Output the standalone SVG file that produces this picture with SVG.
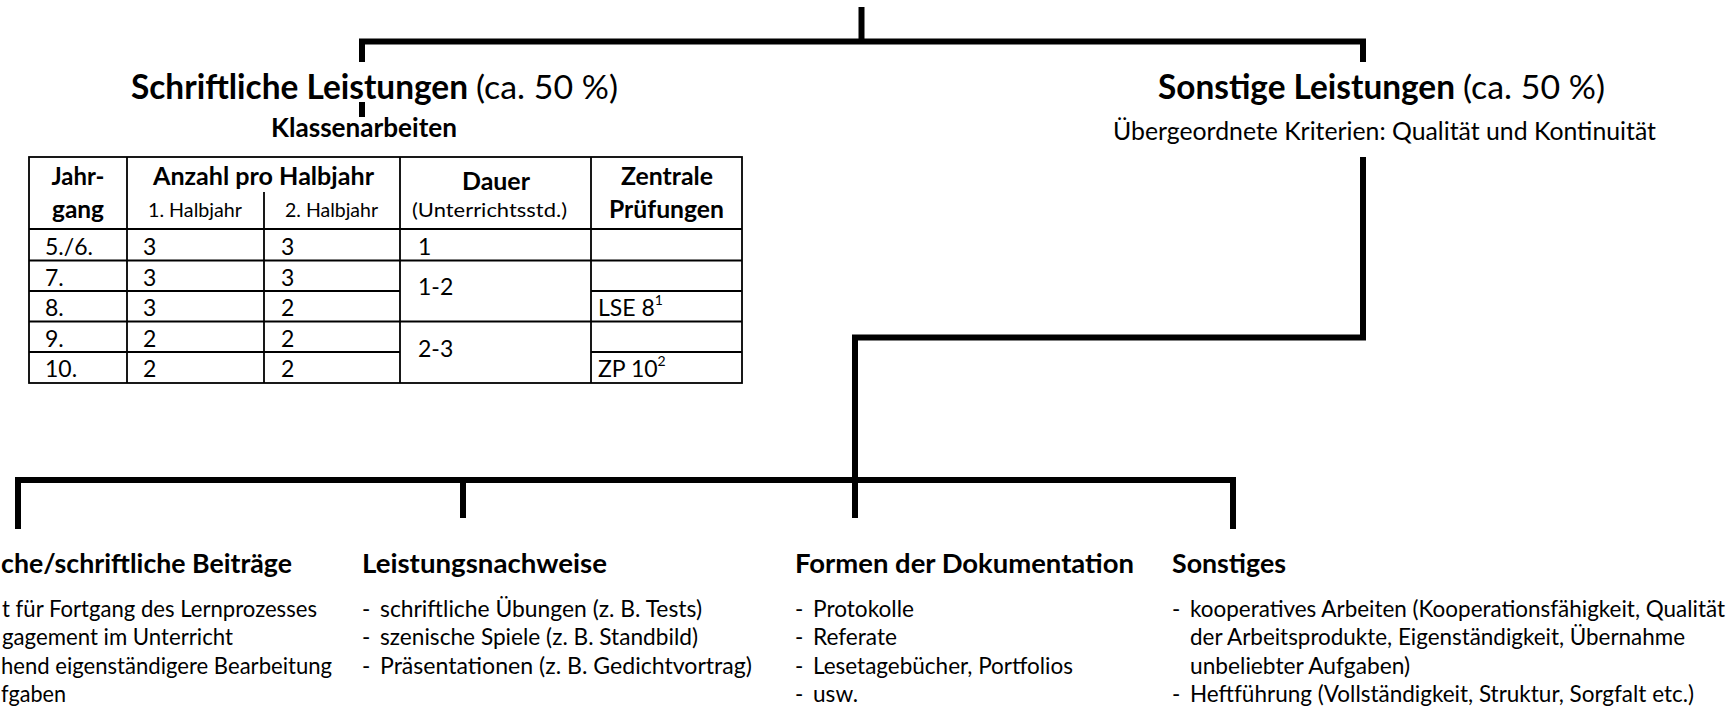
<svg xmlns="http://www.w3.org/2000/svg" width="1735" height="709" viewBox="0 0 1735 709">
<style>
text{font-family:Lato,"Open Sans","Liberation Sans",sans-serif;fill:#000}
.h1b{font-size:33.5px;font-weight:bold}
.h1r{font-size:33.5px}
.crit{font-size:25px}
.cap{font-size:26px;font-weight:bold}
.th{font-size:24.5px;font-weight:bold}
.ts{font-size:20px}
.td{font-size:23px}
.sup{font-size:14px}
.h2{font-size:27px;font-weight:bold}
.b{font-size:22.3px}
.conn{fill:none;stroke:#000;stroke-width:6;stroke-linejoin:miter;stroke-linecap:butt}
.tl{fill:none;stroke:#000;stroke-width:1.8}
</style>
<g id="connectors">
<path class="conn" d="M861.5 7 V41.5"/>
<path class="conn" d="M362 62 V41.5 H1363 V62"/>
<path class="conn" d="M362 102 V117"/>
<path class="conn" d="M1363 157 V337.5 H855 V518"/>
<path class="conn" d="M18 529 V480 H1233 V529"/>
<path class="conn" d="M463 480 V518"/>
</g>
<g id="node-schriftliche">
<text class="h1b" x="131" y="98.5" textLength="337" lengthAdjust="spacingAndGlyphs">Schriftliche Leistungen</text>
<text class="h1r" x="476" y="98.5" textLength="142" lengthAdjust="spacingAndGlyphs">(ca. 50 %)</text>
<text class="cap" x="271" y="137" textLength="186" lengthAdjust="spacingAndGlyphs">Klassenarbeiten</text>
<g id="table">
<rect class="tl" x="29" y="157" width="713" height="226"/>
<path class="tl" d="M127 157 V383 M264 192 V383 M400 157 V383 M591 157 V383 M29 229 H742 M29 260.5 H742 M29 291 H400 M591 291 H742 M29 321.5 H742 M29 352 H400 M591 352 H742"/>
<text class="th" x="51.5" y="185" textLength="53" lengthAdjust="spacingAndGlyphs">Jahr-</text>
<text class="th" x="52" y="218" textLength="52" lengthAdjust="spacingAndGlyphs">gang</text>
<text class="th" x="153" y="185" textLength="221" lengthAdjust="spacingAndGlyphs">Anzahl pro Halbjahr</text>
<text class="ts" x="148" y="217" textLength="94" lengthAdjust="spacingAndGlyphs">1. Halbjahr</text>
<text class="ts" x="285" y="217" textLength="93" lengthAdjust="spacingAndGlyphs">2. Halbjahr</text>
<text class="th" x="462" y="190" textLength="68" lengthAdjust="spacingAndGlyphs">Dauer</text>
<text class="ts" x="412" y="217" textLength="155" lengthAdjust="spacingAndGlyphs">(Unterrichtsstd.)</text>
<text class="th" x="621" y="185" textLength="92" lengthAdjust="spacingAndGlyphs">Zentrale</text>
<text class="th" x="609" y="218" textLength="115" lengthAdjust="spacingAndGlyphs">Prüfungen</text>
<text class="td" x="45" y="255">5./6.</text>
<text class="td" x="45" y="285.5">7.</text>
<text class="td" x="45" y="316">8.</text>
<text class="td" x="45" y="346.5">9.</text>
<text class="td" x="45" y="377">10.</text>
<text class="td" x="143" y="255">3</text>
<text class="td" x="143" y="285.5">3</text>
<text class="td" x="143" y="316">3</text>
<text class="td" x="143" y="346.5">2</text>
<text class="td" x="143" y="377">2</text>
<text class="td" x="281" y="255">3</text>
<text class="td" x="281" y="285.5">3</text>
<text class="td" x="281" y="316">2</text>
<text class="td" x="281" y="346.5">2</text>
<text class="td" x="281" y="377">2</text>
<text class="td" x="418" y="255">1</text>
<text class="td" x="418" y="295">1-2</text>
<text class="td" x="418" y="357">2-3</text>
<text class="td" x="598" y="316">LSE 8<tspan class="sup" dy="-11">1</tspan></text>
<text class="td" x="598" y="377">ZP 10<tspan class="sup" dy="-11">2</tspan></text>
</g>
</g>
<g id="node-sonstige">
<text class="h1b" x="1158" y="98.5" textLength="297" lengthAdjust="spacingAndGlyphs">Sonstige Leistungen</text>
<text class="h1r" x="1463" y="98.5" textLength="142" lengthAdjust="spacingAndGlyphs">(ca. 50 %)</text>
<text class="crit" x="1113" y="140" textLength="543" lengthAdjust="spacingAndGlyphs">Übergeordnete Kriterien: Qualität und Kontinuität</text>
</g>
<g id="node-beitraege">
<text class="h2" x="1" y="573" textLength="291" lengthAdjust="spacingAndGlyphs">che/schriftliche Beiträge</text>
<text class="b" x="2" y="616.5" textLength="315" lengthAdjust="spacingAndGlyphs">t für Fortgang des Lernprozesses</text>
<text class="b" x="2" y="645" textLength="231" lengthAdjust="spacingAndGlyphs">gagement im Unterricht</text>
<text class="b" x="1" y="673.5" textLength="331" lengthAdjust="spacingAndGlyphs">hend eigenständigere Bearbeitung</text>
<text class="b" x="1" y="702" textLength="65" lengthAdjust="spacingAndGlyphs">fgaben</text>
</g>
<g id="node-leistungsnachweise">
<text class="h2" x="362" y="573" textLength="245" lengthAdjust="spacingAndGlyphs">Leistungsnachweise</text>
<text class="b" x="362" y="616.5">-</text>
<text class="b" x="380" y="616.5" textLength="322" lengthAdjust="spacingAndGlyphs">schriftliche Übungen (z. B. Tests)</text>
<text class="b" x="362" y="645">-</text>
<text class="b" x="380" y="645" textLength="318" lengthAdjust="spacingAndGlyphs">szenische Spiele (z. B. Standbild)</text>
<text class="b" x="362" y="673.5">-</text>
<text class="b" x="380" y="673.5" textLength="372" lengthAdjust="spacingAndGlyphs">Präsentationen (z. B. Gedichtvortrag)</text>
</g>
<g id="node-dokumentation">
<text class="h2" x="795" y="573" textLength="339" lengthAdjust="spacingAndGlyphs">Formen der Dokumentation</text>
<text class="b" x="795" y="616.5">-</text>
<text class="b" x="813" y="616.5" textLength="101" lengthAdjust="spacingAndGlyphs">Protokolle</text>
<text class="b" x="795" y="645">-</text>
<text class="b" x="813" y="645" textLength="84" lengthAdjust="spacingAndGlyphs">Referate</text>
<text class="b" x="795" y="673.5">-</text>
<text class="b" x="813" y="673.5" textLength="260" lengthAdjust="spacingAndGlyphs">Lesetagebücher, Portfolios</text>
<text class="b" x="795" y="702">-</text>
<text class="b" x="813" y="702" textLength="45" lengthAdjust="spacingAndGlyphs">usw.</text>
</g>
<g id="node-sonstiges">
<text class="h2" x="1172" y="573" textLength="114" lengthAdjust="spacingAndGlyphs">Sonstiges</text>
<text class="b" x="1172" y="616.5">-</text>
<text class="b" x="1190" y="616.5" textLength="535" lengthAdjust="spacingAndGlyphs">kooperatives Arbeiten (Kooperationsfähigkeit, Qualität</text>
<text class="b" x="1190" y="645" textLength="495" lengthAdjust="spacingAndGlyphs">der Arbeitsprodukte, Eigenständigkeit, Übernahme</text>
<text class="b" x="1190" y="673.5" textLength="220" lengthAdjust="spacingAndGlyphs">unbeliebter Aufgaben)</text>
<text class="b" x="1172" y="702">-</text>
<text class="b" x="1190" y="702" textLength="504" lengthAdjust="spacingAndGlyphs">Heftführung (Vollständigkeit, Struktur, Sorgfalt etc.)</text>
</g>
</svg>
